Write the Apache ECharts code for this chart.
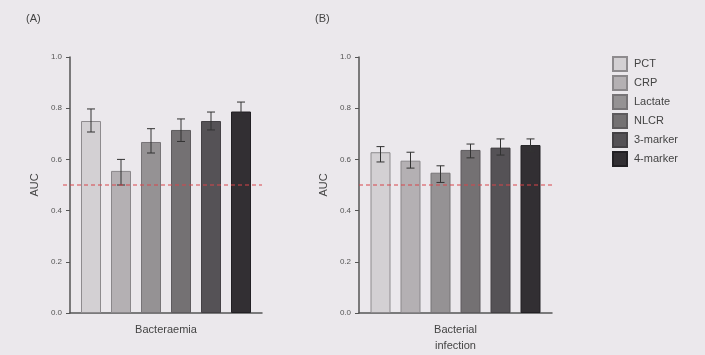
<!DOCTYPE html>
<html>
<head>
<meta charset="utf-8">
<script src="https://cdn.jsdelivr.net/npm/echarts@6/dist/echarts.min.js"></script>
<style>
  html, body { margin: 0; padding: 0; background: #ebe8ec; }
  #chart-container { width: 705px; height: 355px; }
</style>
</head>
<body>
<div id="chart-container"></div>
<script>
var markers = ['PCT', 'CRP', 'Lactate', 'NLCR', '3-marker', '4-marker'];
var panelNames = ['(A)', '(B)'];
var panelCategories = ['Bacteraemia', 'Bacterial\ninfection'];
// AUC per marker, panel A then panel B
var aucA = [0.75, 0.555, 0.668, 0.715, 0.75, 0.787];
var lowA = [0.707, 0.50, 0.625, 0.67, 0.715, 0.757];
var highA = [0.797, 0.60, 0.72, 0.758, 0.785, 0.824];
var aucB = [0.628, 0.595, 0.548, 0.637, 0.646, 0.656];
var lowB = [0.59, 0.566, 0.51, 0.606, 0.617, 0.63];
var highB = [0.65, 0.628, 0.575, 0.66, 0.68, 0.68];
var refLine = 0.5;

var colors = ['#d3d0d3', '#b4b0b3', '#959294', '#747173', '#555256', '#322f33'];
var borders = ['#8e8b8e', '#8a878a', '#777477', '#5e5b5e', '#444145', '#222024'];

var dom = document.getElementById('chart-container');
var myChart = echarts.init(dom, null, { renderer: 'canvas' });

var BAR_W = 20;
var BAR_GAP = 10;
var textColor = '#555';
var fontFam = 'Liberation Sans, Arial, sans-serif';

function makeAxes(i) {
  return {
    x: {
      type: 'category',
      gridIndex: i,
      data: [panelCategories[i]],
      axisLine: { lineStyle: { color: '#555', width: 1.5 } },
      axisTick: { show: false },
      axisLabel: { color: '#444', fontSize: 11, fontFamily: fontFam, margin: 9, lineHeight: 16 }
    },
    y: {
      type: 'value',
      gridIndex: i,
      min: 0,
      max: 1,
      interval: 0.2,
      name: 'AUC',
      nameLocation: 'middle',
      nameRotate: 90,
      nameGap: 30,
      nameTextStyle: { color: '#444', fontSize: 11, fontFamily: fontFam },
      axisLine: { show: true, lineStyle: { color: '#555', width: 1.5 } },
      axisTick: { show: true, length: 4, lineStyle: { color: '#555' } },
      splitLine: { show: false },
      axisLabel: {
        color: textColor, fontSize: 8, fontFamily: fontFam, margin: 8,
        formatter: function (v) { return v.toFixed(1); }
      }
    }
  };
}

var grids = [
  { left: 70, top: 57, width: 192, height: 256 },
  { left: 359, top: 57, width: 193, height: 256 }
];

var xAxes = [], yAxes = [], series = [];
[[aucA, lowA, highA], [aucB, lowB, highB]].forEach(function (set, p) {
  var ax = makeAxes(p);
  xAxes.push(ax.x);
  yAxes.push(ax.y);
  markers.forEach(function (m, k) {
    series.push({
      name: m,
      type: 'bar',
      xAxisIndex: p,
      yAxisIndex: p,
      barWidth: BAR_W,
      barGap: '50%',
      data: [set[0][k]],
      itemStyle: { color: colors[k], borderColor: borders[k], borderWidth: 1 },
      z: 2
    });
  });
  series.push({
    type: 'custom',
    xAxisIndex: p,
    yAxisIndex: p,
    z: 5,
    data: markers.map(function (m, k) { return [0, set[1][k], set[2][k], k]; }),
    renderItem: function (params, api) {
      var k = api.value(3);
      var off = (k - 2.5) * (BAR_W + BAR_GAP);
      var lo = api.coord([0, api.value(1)]);
      var hi = api.coord([0, api.value(2)]);
      var x = lo[0] + off;
      var style = { stroke: '#333', lineWidth: 1 };
      return {
        type: 'group',
        children: [
          { type: 'line', shape: { x1: x, y1: lo[1], x2: x, y2: hi[1] }, style: style },
          { type: 'line', shape: { x1: x - 4, y1: lo[1], x2: x + 4, y2: lo[1] }, style: style },
          { type: 'line', shape: { x1: x - 4, y1: hi[1], x2: x + 4, y2: hi[1] }, style: style }
        ]
      };
    }
  });
  // dashed chance line at AUC 0.5
  series.push({
    type: 'custom',
    xAxisIndex: p,
    yAxisIndex: p,
    z: 6,
    silent: true,
    data: [[0, refLine]],
    renderItem: function (params, api) {
      var c = api.coord([0, api.value(1)]);
      var cs = params.coordSys;
      return {
        type: 'line',
        shape: { x1: cs.x - (p === 0 ? 7 : 0), y1: c[1], x2: cs.x + cs.width, y2: c[1] },
        style: { stroke: '#d8444a', lineWidth: 1, lineDash: [4, 3] }
      };
    }
  });
});

var option = {
  backgroundColor: '#ebe8ec',
  animation: false,
  title: [
    { text: panelNames[0], left: 21, top: 8, textStyle: { fontSize: 11, fontWeight: 'normal', color: '#444', fontFamily: fontFam } },
    { text: panelNames[1], left: 310, top: 8, textStyle: { fontSize: 11, fontWeight: 'normal', color: '#444', fontFamily: fontFam } }
  ],
  legend: {
    data: markers,
    orient: 'vertical',
    left: 612,
    top: 56,
    padding: 0,
    itemWidth: 14,
    itemHeight: 14,
    itemGap: 3,
    icon: 'rect',
    textStyle: { color: '#444', fontSize: 11, fontFamily: fontFam, lineHeight: 12, padding: [0, 0, 0, 2] },
    selectedMode: false
  },
  grid: grids,
  xAxis: xAxes,
  yAxis: yAxes,
  series: series
};

myChart.setOption(option);
window.addEventListener('resize', myChart.resize);
</script>
</body>
</html>
